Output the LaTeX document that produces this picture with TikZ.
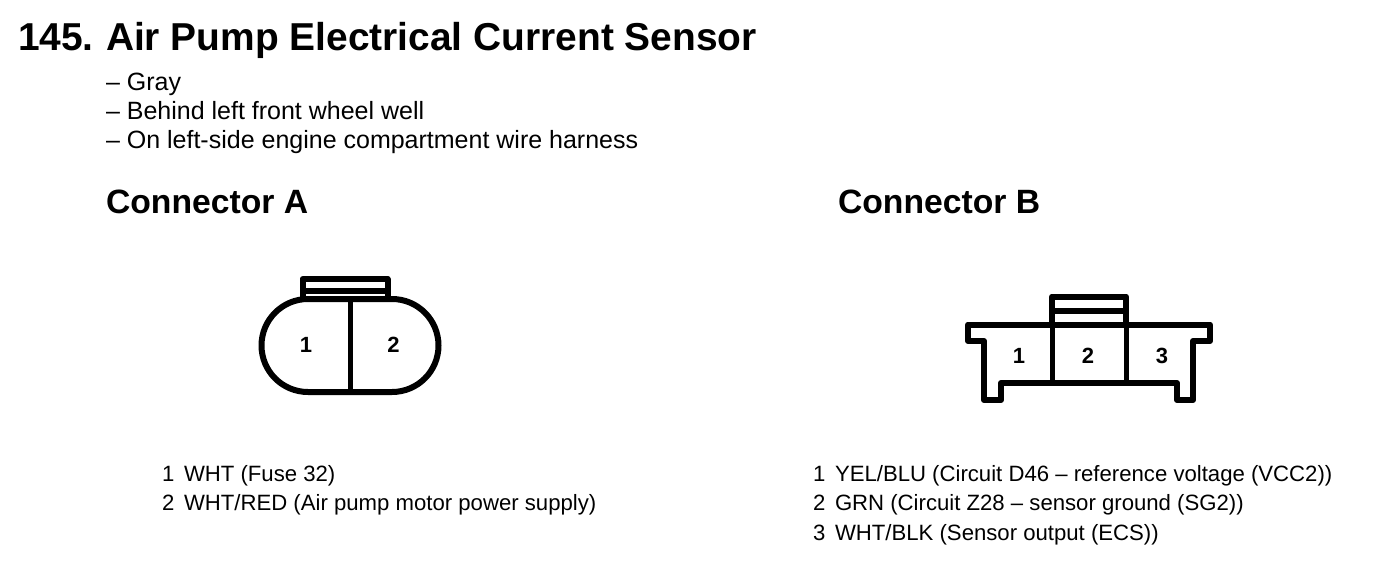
\documentclass[tikz,border=0pt]{standalone}
\usepackage{fontspec}
\setmainfont{Liberation Sans}
\begin{document}
\begin{tikzpicture}[x=1pt,y=-1pt,
  txt/.style={anchor=base west,inner sep=0pt,outer sep=0pt,font=\fontsize{25}{28}\selectfont,text=black},
  head/.style={txt,font=\fontsize{33.7}{38}\selectfont\bfseries},
  title/.style={txt,font=\fontsize{38.9}{42}\selectfont\bfseries},
  pinl/.style={txt,font=\fontsize{22.15}{25}\selectfont},
  pin/.style={anchor=center,inner sep=0pt,font=\fontsize{22}{24}\selectfont\bfseries},
  conn/.style={draw=black,line width=6pt,line join=round}]
\useasboundingbox (0,0) rectangle (1376,576);
\fill[white] (0,0) rectangle (1376,576);
% headings
\node[title] (num) at (18,50) {145.};
\node[title] (ttl) at (106,50) {Air Pump Electrical Current Sensor};
\node[txt] (l1) at (106,90) {– Gray};
\node[txt] (l2) at (106,119) {– Behind left front wheel well};
\node[txt] (l3) at (106,148) {– On left-side engine compartment wire harness};
\node[head] (ca) at (106,213) {Connector A};
\node[head] (cb) at (838,213) {Connector B};
% connector A
\draw[conn] (302.5,299) -- (302.5,279) -- (387.5,279) -- (387.5,299);
\draw[conn] (302.5,290.5) -- (387.5,290.5);
\draw[conn] (308,299) -- (392,299) arc[start angle=-90,end angle=90,radius=46.5] -- (308,392) arc[start angle=90,end angle=270,radius=46.5] -- cycle;
\draw[conn,line width=5pt] (350,299) -- (350,392);
\node[pin] (a1) at (306,344.5) {1};
\node[pin] (a2) at (393.5,344.5) {2};
% connector B
\draw[conn] (1052,324) -- (1052,296.5) -- (1126,296.5) -- (1126,324);
\draw[conn] (1052,311) -- (1126,311);
\draw[conn] (968,324.5) -- (1210,324.5) -- (1210,341) -- (1193,341) -- (1193,400) -- (1177,400) -- (1177,383) -- (1001,383) -- (1001,400) -- (984,400) -- (984,341) -- (968,341) -- cycle;
\draw[conn,line width=5pt] (1052,324) -- (1052,383);
\draw[conn,line width=5pt] (1126,324) -- (1126,383);
\node[pin] (b1) at (1019,355.5) {1};
\node[pin] (b2) at (1088,355.5) {2};
\node[pin] (b3) at (1162,355.5) {3};
% pin lists
\node[pinl] (pa1) at (162,481) {1};
\node[pinl] (pa1t) at (184,481) {WHT (Fuse 32)};
\node[pinl] (pa2) at (162,510) {2};
\node[pinl] (pa2t) at (184,510) {WHT/RED (Air pump motor power supply)};
\node[pinl] (pb1) at (813,481) {1};
\node[pinl] (pb1t) at (835,481) {YEL/BLU (Circuit D46 – reference voltage (VCC2))};
\node[pinl] (pb2) at (813,510) {2};
\node[pinl] (pb2t) at (835,510) {GRN (Circuit Z28 – sensor ground (SG2))};
\node[pinl] (pb3) at (813,540) {3};
\node[pinl] (pb3t) at (835,540) {WHT/BLK (Sensor output (ECS))};
\end{tikzpicture}
\end{document}
